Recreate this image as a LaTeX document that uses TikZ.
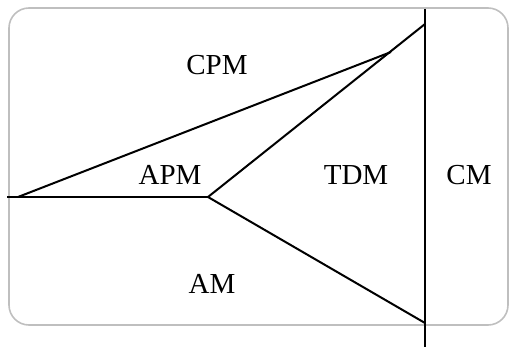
\documentclass[tikz,border=0pt]{standalone}
\usepackage{fontspec}
\setmainfont{Liberation Serif}
\begin{document}
\begin{tikzpicture}[x=1pt,y=-1pt,
  frame/.style={draw=black!25,line width=1.6pt,rounded corners=20pt},
  edge/.style={draw=black,line width=2pt},
  lbl/.style={font=\fontsize{29}{32}\selectfont,inner sep=0pt}]
\useasboundingbox (0,0) rectangle (511,350);
\draw[frame] (9,8) rectangle (508,325);
\coordinate (L) at (7,197);
\coordinate (S) at (18,197);
\coordinate (J) at (208,197);
\coordinate (E) at (391,52);
\coordinate (T) at (425,24);
\coordinate (B) at (425,323);
\coordinate (VT) at (425,9);
\coordinate (VB) at (425,347);
\draw[edge] (L) -- (J);
\draw[edge] (S) -- (E);
\draw[edge] (J) -- (T);
\draw[edge] (J) -- (B);
\draw[edge] (VT) -- (VB);
\node[lbl] (cpm) at (217,65) {CPM};
\node[lbl] (apm) at (170,175) {APM};
\node[lbl] (tdm) at (356,175) {TDM};
\node[lbl] (cm) at (469,175) {CM};
\node[lbl] (am) at (212,284) {AM};
\end{tikzpicture}
\end{document}
